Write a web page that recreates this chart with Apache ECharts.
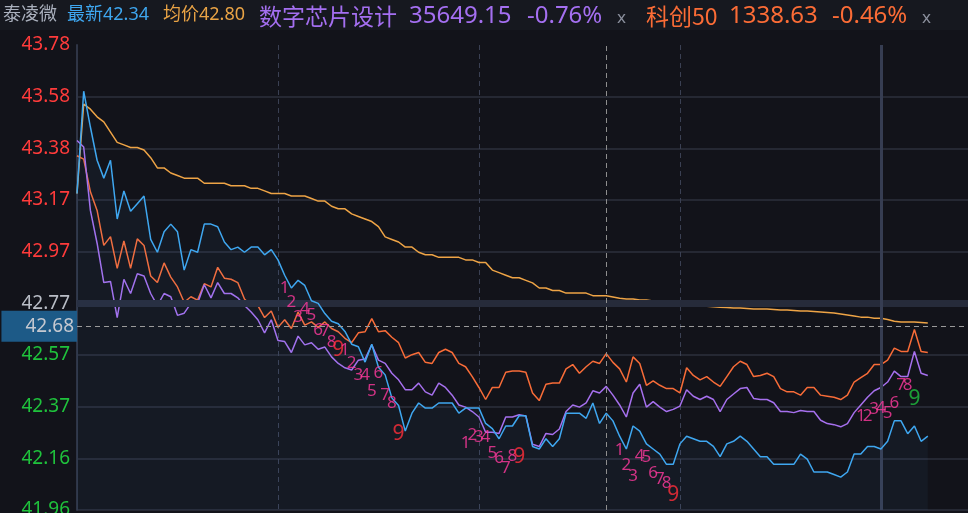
<!DOCTYPE html>
<html><head><meta charset="utf-8">
<script src="https://cdn.jsdelivr.net/npm/echarts@6/dist/echarts.min.js"></script>
<style>html,body{margin:0;padding:0;background:#12131a;}#c{width:968px;height:513px;}</style>
</head><body><div id="c"></div>
<script>
// ---------- data ----------
const prevClose = 42.77;           // previous close (axis centre line)
const yTickLabels = ['41.96','42.16','42.37','42.57','42.77','42.97','43.17','43.38','43.58','43.78'];
const crossPrice = 42.68;          // crosshair horizontal level
const crossIndex = 79;             // crosshair time index (10:49)

const headerStock = ['泰凌微', '最新42.34', '均价42.80'];
const headerIndex1 = ['数字芯片设计', '35649.15', '-0.76%'];
const headerIndex2 = ['科创50', '1338.63', '-0.46%'];

// 泰凌微 price
const stockPrice = [43.20,43.60,43.46,43.33,43.26,43.33,43.10,43.21,43.13,43.16,
 43.19,43.02,42.97,43.05,43.08,43.05,42.90,42.98,42.97,43.08,
 43.08,43.07,43.01,42.98,42.99,42.97,42.99,42.99,42.96,42.98,
 42.94,42.88,42.83,42.86,42.84,42.78,42.77,42.73,42.70,42.69,
 42.66,42.61,42.60,42.54,42.61,42.52,42.49,42.40,42.37,42.27,
 42.34,42.38,42.36,42.36,42.38,42.38,42.38,42.34,42.36,42.36,
 42.36,42.30,42.28,42.24,42.29,42.29,42.33,42.33,42.21,42.20,
 42.24,42.21,42.24,42.34,42.34,42.34,42.32,42.38,42.30,42.34,
 42.31,42.25,42.20,42.29,42.27,42.22,42.20,42.18,42.14,42.14,
 42.22,42.25,42.24,42.23,42.23,42.21,42.17,42.22,42.23,42.25,
 42.23,42.20,42.17,42.17,42.14,42.14,42.14,42.14,42.18,42.16,
 42.11,42.11,42.11,42.10,42.09,42.11,42.18,42.18,42.21,42.21,
 42.20,42.23,42.31,42.31,42.26,42.29,42.23,42.25];
// 均价
const avgPrice = [43.20,43.55,43.53,43.50,43.48,43.44,43.40,43.39,43.38,43.38,
 43.37,43.34,43.30,43.30,43.28,43.27,43.26,43.26,43.26,43.24,
 43.24,43.24,43.24,43.23,43.23,43.23,43.22,43.22,43.21,43.20,
 43.20,43.20,43.19,43.19,43.19,43.18,43.17,43.17,43.15,43.14,
 43.14,43.12,43.11,43.10,43.09,43.07,43.03,43.02,43.01,42.99,
 42.99,42.97,42.96,42.96,42.95,42.95,42.95,42.95,42.94,42.94,
 42.93,42.93,42.90,42.89,42.88,42.87,42.87,42.86,42.85,42.83,
 42.83,42.82,42.82,42.81,42.81,42.81,42.81,42.80,42.80,42.80,
 42.795,42.79,42.787,42.787,42.783,42.783,42.779,42.779,42.775,42.771,
 42.771,42.767,42.763,42.761,42.759,42.757,42.755,42.754,42.752,42.752,
 42.750,42.748,42.748,42.748,42.746,42.744,42.744,42.742,42.740,42.740,
 42.738,42.736,42.734,42.732,42.728,42.724,42.720,42.716,42.716,42.712,
 42.712,42.707,42.700,42.697,42.697,42.697,42.695,42.693];
// 数字芯片设计 change, %
const chipIndexPct = [1.49,1.43,0.85,0.55,0.19,0.20,-0.13,0.22,0.09,0.27,
 0.25,0.09,-0.02,0.09,0.06,-0.11,-0.09,0.00,0.00,0.17,
 0.05,0.19,0.09,0.09,0.05,-0.02,-0.08,-0.15,-0.27,-0.15,
 -0.34,-0.35,-0.45,-0.30,-0.38,-0.36,-0.42,-0.40,-0.49,-0.55,
 -0.59,-0.61,-0.52,-0.51,-0.38,-0.52,-0.55,-0.64,-0.70,-0.79,
 -0.79,-0.73,-0.81,-0.84,-0.73,-0.77,-0.84,-0.93,-0.95,-0.99,
 -1.04,-1.18,-1.18,-1.19,-1.04,-1.04,-1.02,-1.03,-1.29,-1.31,
 -1.19,-1.20,-1.15,-0.99,-0.93,-0.95,-0.91,-0.80,-0.82,-0.76,
 -0.84,-0.93,-1.04,-0.82,-0.74,-0.95,-0.90,-0.95,-0.99,-0.97,
 -0.94,-0.79,-0.85,-0.88,-0.85,-0.88,-0.99,-0.88,-0.83,-0.78,
 -0.77,-0.87,-0.88,-0.88,-0.91,-0.99,-0.99,-1.00,-0.98,-0.99,
 -0.99,-1.07,-1.10,-1.11,-1.13,-1.10,-1.00,-0.93,-0.86,-0.80,
 -0.77,-0.72,-0.62,-0.67,-0.67,-0.44,-0.64,-0.66];
// 科创50 change, %
const star50Pct = [1.35,1.32,1.02,0.85,0.53,0.61,0.32,0.57,0.32,0.59,
 0.53,0.25,0.19,0.37,0.24,0.15,0.01,0.06,0.03,0.18,
 0.15,0.33,0.23,0.22,0.19,0.04,-0.02,-0.02,-0.13,-0.07,
 -0.22,-0.15,-0.23,-0.08,-0.20,-0.17,-0.22,-0.17,-0.23,-0.26,
 -0.32,-0.36,-0.27,-0.26,-0.14,-0.26,-0.25,-0.31,-0.36,-0.50,
 -0.47,-0.45,-0.54,-0.55,-0.45,-0.42,-0.45,-0.55,-0.58,-0.67,
 -0.77,-0.88,-0.77,-0.77,-0.63,-0.62,-0.62,-0.63,-0.82,-0.89,
 -0.74,-0.73,-0.73,-0.60,-0.56,-0.64,-0.58,-0.53,-0.55,-0.46,
 -0.54,-0.60,-0.72,-0.49,-0.55,-0.75,-0.71,-0.75,-0.78,-0.78,
 -0.82,-0.59,-0.66,-0.70,-0.67,-0.72,-0.76,-0.67,-0.58,-0.53,
 -0.56,-0.67,-0.66,-0.64,-0.67,-0.78,-0.81,-0.81,-0.84,-0.77,
 -0.77,-0.84,-0.85,-0.86,-0.88,-0.84,-0.72,-0.68,-0.64,-0.56,
 -0.56,-0.52,-0.41,-0.44,-0.44,-0.24,-0.44,-0.45];

// TD sequence counters (time index, count, price level, sequence direction)
const tdIndex = [31,32,33,34,35,36,37,38,39, 40,41,42,43,44,45,46,47,48,
 58,59,60,61,62,63,64,65,66, 81,82,83,84,85,86,87,88,89, 117,118,119,120,121,122,123,124,125];
const tdText = ['1','2','3','4','5','6','7','8','9','1','2','3','4','5','6','7','8','9',
 '1','2','3','4','5','6','7','8','9','1','2','3','4','5','6','7','8','9','1','2','3','4','5','6','7','8','9'];
const tdLevel = [42.83,42.775,42.716,42.748,42.725,42.665,42.66,42.62,42.587,
 42.587,42.536,42.49,42.49,42.427,42.497,42.41,42.38,42.26,
 42.223,42.255,42.247,42.247,42.184,42.164,42.125,42.172,42.168,
 42.196,42.137,42.094,42.172,42.168,42.106,42.082,42.067,42.02,
 42.329,42.329,42.356,42.36,42.34,42.38,42.45,42.45,42.395];
const tdDir = ['down','down','down','down','down','down','down','down','down',
 'down','down','down','down','down','down','down','down','down',
 'down','down','down','down','down','down','down','down','down',
 'down','down','down','down','down','down','down','down','down',
 'up','up','up','up','up','up','up','up','up'];

// ---------- build ----------
const STEP = 0.2022; // price per grid step
const toUnit = p => (p - prevClose) / STEP;
const pctToUnit = pct => toUnit(prevClose * (1 + pct / 100));

const times = [];
for (let m = 0; m <= 120; m++) { const t = 9*60+30+m; times.push(String(Math.floor(t/60)).padStart(2,'0')+':'+String(t%60).padStart(2,'0')); }
for (let m = 1; m <= 13; m++) { const t = 13*60+m; times.push(String(Math.floor(t/60)).padStart(2,'0')+':'+String(t%60).padStart(2,'0')); }

const FONT = '"Noto Sans","Noto Sans CJK SC",sans-serif';
const CJK = '"Noto Sans CJK SC","Noto Sans",sans-serif';

const tdData = tdIndex.map((ix, k) => {
  const nine = tdText[k] === '9';
  const color = nine ? (tdDir[k] === 'up' ? '#1fc13e' : '#ff2e3a') : '#ff3a9e';
  return { value: [ix, toUnit(tdLevel[k])],
    label: { formatter: tdText[k], color: color, fontSize: nine ? 21 : 17 } };
});

const AX = 19;
const chart = echarts.init(document.getElementById('c'), null, { renderer: 'canvas' });
chart.setOption({
  backgroundColor: '#12131a',
  animation: false,
  textStyle: { fontFamily: FONT },
  grid: { left: 77, right: 0, top: 45, bottom: 3, containLabel: false, outerBoundsMode: 'none' },
  xAxis: {
    type: 'category', data: times, boundaryGap: false,
    axisLine: { show: false }, axisTick: { show: false }, axisLabel: { show: false },
    splitLine: { show: true, interval: (i) => i > 0 && i % 30 === 0 && i < 120,
      lineStyle: { color: '#3a4053', type: [5, 4], width: 1 } },
    axisPointer: { show: true, status: 'show', value: crossIndex, snap: false, triggerTooltip: false,
      lineStyle: { color: '#8e8e8e', type: [5, 4], width: 1 }, label: { show: false } }
  },
  yAxis: {
    type: 'value', min: -4, max: 5, interval: 1, scale: false,
    axisLine: { show: true, lineStyle: { color: '#2f3546', width: 2 } },
    axisTick: { show: false },
    splitLine: { show: true, showMaxLine: false, lineStyle: { color: '#252833', width: 2 } },
    axisLabel: {
      margin: 7, fontSize: AX, fontFamily: FONT,
      formatter: (v) => {
        const k = Math.round(v) + 4;
        const s = yTickLabels[k];
        if (v > 0.01) return '{r|' + s + '}';
        if (v < -0.01) return '{g|' + s + '}';
        return '{n|' + s + '}';
      },
      rich: {
        r: { color: '#ff3b3b', fontSize: AX, fontFamily: FONT },
        g: { color: '#1fc23c', fontSize: AX, fontFamily: FONT },
        n: { color: '#b9bdc6', fontSize: AX, fontFamily: FONT }
      }
    },
    axisPointer: { show: true, status: 'show', value: toUnit(crossPrice), snap: false, triggerTooltip: false,
      lineStyle: { color: '#9a9a9a', type: [5, 4], width: 1 },
      label: { show: true, formatter: () => crossPrice.toFixed(2), backgroundColor: '#1d5a87',
        color: '#c4c8d0', fontSize: AX, fontFamily: FONT, padding: [6, 3, 6, 24], margin: 0, borderRadius: 0 } }
  },
  series: [
    { name: '均价', type: 'line', data: avgPrice.map(toUnit), symbol: 'none',
      lineStyle: { color: '#eea446', width: 1.5 }, z: 2,
      markLine: { silent: true, symbol: 'none', label: { show: false },
        data: [ { yAxis: 0, lineStyle: { color: '#262b3a', width: 7, type: 'solid' } },
                { xAxis: 120, lineStyle: { color: '#363d52', width: 3, type: 'solid' } } ] } },
    { name: '科创50', type: 'line', data: star50Pct.map(pctToUnit), symbol: 'none',
      lineStyle: { color: '#f86c38', width: 1.5 }, z: 3 },
    { name: '数字芯片设计', type: 'line', data: chipIndexPct.map(pctToUnit), symbol: 'none',
      lineStyle: { color: '#a670ee', width: 1.5 }, z: 4 },
    { name: '泰凌微', type: 'line', data: stockPrice.map(toUnit), symbol: 'none',
      lineStyle: { color: '#3fa7f0', width: 1.5 }, z: 5,
      areaStyle: { origin: 'start', color: 'rgba(70,150,230,0.07)' } },
    { name: 'TD', type: 'scatter', data: tdData, symbolSize: 0, z: 10, silent: true,
      label: { show: true, position: 'inside', fontFamily: FONT } }
  ],
  graphic: [
    { type: 'rect', left: 0, top: 0, shape: { width: 968, height: 30 }, style: { fill: '#16181f' }, z: -1 },
    { type: 'text', x: 3, y: 15, style: { text: headerStock[0], fill: '#aab0bd', font: '18px ' + FONT, verticalAlign: 'middle' } },
    { type: 'text', x: 67, y: 15, style: { text: headerStock[1], fill: '#3ea6ef', font: '18px ' + FONT, verticalAlign: 'middle' } },
    { type: 'text', x: 163, y: 15, style: { text: headerStock[2], fill: '#e9a345', font: '18px ' + FONT, verticalAlign: 'middle' } },
    { type: 'text', x: 259, y: 16, style: { text: headerIndex1[0], fill: '#a46ff0', font: '23px ' + CJK, verticalAlign: 'middle' } },
    { type: 'text', x: 409, y: 16, style: { text: headerIndex1[1], fill: '#a46ff0', font: '24px ' + FONT, verticalAlign: 'middle' } },
    { type: 'text', x: 527, y: 16, style: { text: headerIndex1[2], fill: '#a46ff0', font: '24px ' + FONT, verticalAlign: 'middle' } },
    { type: 'text', x: 617, y: 18, style: { text: 'x', fill: '#8a8f9c', font: '17px ' + FONT, verticalAlign: 'middle' } },
    { type: 'text', x: 646, y: 16, style: { text: headerIndex2[0], fill: '#fb6c36', font: '23px ' + CJK, verticalAlign: 'middle' } },
    { type: 'text', x: 729, y: 16, style: { text: headerIndex2[1], fill: '#fb6c36', font: '24px ' + FONT, verticalAlign: 'middle' } },
    { type: 'text', x: 832, y: 16, style: { text: headerIndex2[2], fill: '#fb6c36', font: '24px ' + FONT, verticalAlign: 'middle' } },
    { type: 'text', x: 922, y: 18, style: { text: 'x', fill: '#8a8f9c', font: '17px ' + FONT, verticalAlign: 'middle' } }
  ]
});
</script></body></html>
